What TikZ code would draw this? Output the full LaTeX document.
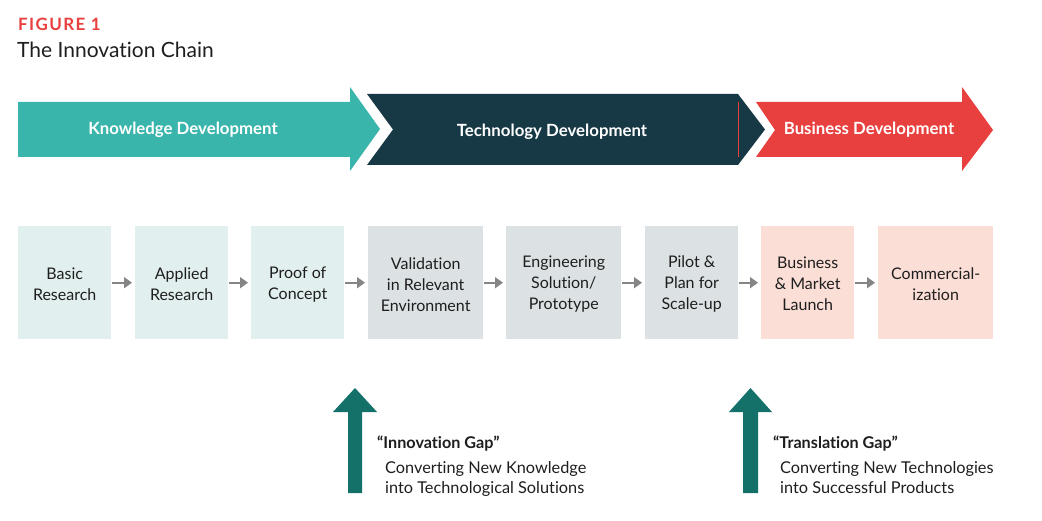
\documentclass[tikz,border=0pt]{standalone}
\usepackage{fontspec}
\setmainfont{Lato}[Ligatures={NoCommon}]
\usetikzlibrary{arrows.meta}
\definecolor{teal1}{HTML}{3AB5AB}
\definecolor{darkblue}{HTML}{173845}
\definecolor{red1}{HTML}{E8403E}
\definecolor{boxteal}{HTML}{E1EFEE}
\definecolor{boxgray}{HTML}{DCE2E4}
\definecolor{boxpink}{HTML}{FBDED6}
\definecolor{gapteal}{HTML}{13716A}
\definecolor{txt}{HTML}{1E1E1E}
\definecolor{arrgray}{HTML}{858585}
\definecolor{figred}{HTML}{E8403E}
\tikzset{
  stage/.style={fill=#1, draw=none, minimum height=113pt, inner sep=0pt,
    anchor=north west},
  stagetext/.style={align=center, text=txt, inner sep=0pt, font=\fontsize{16}{21}\selectfont},
  hdr/.style={text=white, font=\bfseries\fontsize{16.8}{18}\selectfont, inner sep=0pt},
  flow/.style={arrgray, line width=1.7pt, -{Triangle[length=8pt,width=11pt]},
    shorten <=1pt, shorten >=3pt},
  gaphead/.style={anchor=base west, inner sep=0pt, text=txt, font=\bfseries\fontsize{16.2}{18}\selectfont},
  gaptext/.style={anchor=base west, inner sep=0pt, text=txt, font=\fontsize{16.3}{18}\selectfont},
}
\begin{document}
\begin{tikzpicture}[x=1pt,y=-1pt]
\useasboundingbox (0,0) rectangle (1042,521);
% title
\node[anchor=base west, inner sep=0pt, text=figred, font=\bfseries\fontsize{17}{20}\selectfont\addfontfeatures{LetterSpace=8}] (fig) at (18,31) {FIGURE 1};
\node[anchor=base west, inner sep=0pt, text=txt, font=\fontsize{21}{24}\selectfont] (title) at (17,58) {The Innovation Chain};
% header arrows
\fill[teal1] (18,102) -- (350,102) -- (350,87) -- (380,129) -- (350,171) -- (350,157) -- (18,157) -- cycle;
\fill[darkblue] (367,94) -- (738,94) -- (765,129.5) -- (738,165) -- (367,165) -- (393,129.5) -- cycle;
\draw[red1, line width=0.7pt] (738.5,102) -- (738.5,157);
\fill[red1] (756,102) -- (962,102) -- (962,87) -- (993,130) -- (962,171) -- (962,157) -- (756,157) -- (775,130) -- cycle;
\node[hdr] (kd) at (183,130) {Knowledge Development};
\node[hdr] (td) at (552,132) {Technology Development};
\node[hdr] (bd) at (869,130) {Business Development};
% stages
\node[stage=boxteal, minimum width=93pt] (b1) at (18,226) {};
\node[stage=boxteal, minimum width=93pt] (b2) at (135,226) {};
\node[stage=boxteal, minimum width=93pt] (b3) at (251,226) {};
\node[stage=boxgray, minimum width=115pt] (b4) at (368,226) {};
\node[stage=boxgray, minimum width=115pt] (b5) at (506,226) {};
\node[stage=boxgray, minimum width=93pt] (b6) at (645,226) {};
\node[stage=boxpink, minimum width=93pt] (b7) at (761,226) {};
\node[stage=boxpink, minimum width=115pt] (b8) at (878,226) {};
\node[stagetext] (t1) at ([yshift=-1.5pt]b1.center) {Basic\\Research};
\node[stagetext] (t2) at ([yshift=-1.5pt]b2.center) {Applied\\Research};
\node[stagetext] (t3) at ([yshift=-1.5pt]b3.center) {Proof of\\Concept};
\node[stagetext] (t4) at ([yshift=-1.5pt]b4.center) {Validation\\in Relevant\\Environment};
\node[stagetext] (t5) at ([yshift=-1.5pt]b5.center) {Engineering\\Solution/\\Prototype};
\node[stagetext] (t6) at ([yshift=-1.5pt]b6.center) {Pilot \&\\Plan for\\Scale-up};
\node[stagetext] (t7) at ([yshift=-1.5pt]b7.center) {Business\\\& Market\\Launch};
\node[stagetext] (t8) at ([yshift=-1.5pt]b8.center) {Commercial-\\ization};
\foreach \a/\b in {b1/b2,b2/b3,b3/b4,b4/b5,b5/b6,b6/b7,b7/b8}
  \draw[flow] (\a) -- (\b);
% gap arrows
\fill[gapteal] (348,493) -- (348,412) -- (333,412) -- (355,388) -- (377,412) -- (362,412) -- (362,493) -- cycle;
\fill[gapteal] (743,493) -- (743,412) -- (729,412) -- (750.5,388) -- (772,412) -- (758,412) -- (758,493) -- cycle;
\node[gaphead] (ig) at (377,448) {“Innovation Gap”};
\node[gaptext] (ig1) at (385,473) {Converting New Knowledge};
\node[gaptext] (ig2) at (385,493) {into Technological Solutions};
\node[gaphead] (tg) at (773,448) {“Translation Gap”};
\node[gaptext] (tg1) at (780,473) {Converting New Technologies};
\node[gaptext] (tg2) at (780,493) {into Successful Products};
\end{tikzpicture}
\end{document}
